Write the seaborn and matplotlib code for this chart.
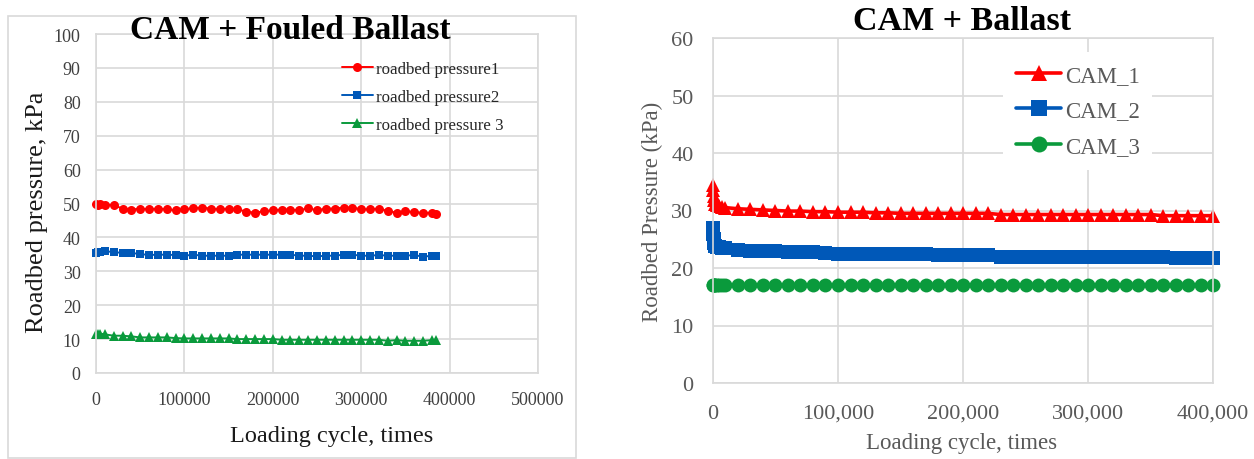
import matplotlib
matplotlib.use("Agg")
import matplotlib.pyplot as plt
import matplotlib.ticker as mticker
from matplotlib.patches import Rectangle
import seaborn as sns
import pandas as pd

# ---------------- data: left panel (CAM + Fouled Ballast) ----------------
left_cycles = [0, 2000, 5000, 10000, 20000, 30000, 40000, 50000, 60000, 70000,
               80000, 90000, 100000, 110000, 120000, 130000, 140000, 150000, 160000, 170000,
               180000, 190000, 200000, 210000, 220000, 230000, 240000, 250000, 260000, 270000,
               280000, 290000, 300000, 310000, 320000, 330000, 340000, 350000, 360000, 370000,
               380000, 385000]
roadbed_pressure1 = [49.8, 49.5, 49.9, 49.7, 49.5, 48.5, 48.2, 48.5, 48.3, 48.5,
                     48.3, 48.0, 48.3, 48.6, 48.8, 48.5, 48.3, 48.5, 48.3, 47.6,
                     47.3, 47.7, 48.0, 48.2, 48.2, 48.0, 48.6, 48.0, 48.5, 48.5,
                     48.8, 48.8, 48.3, 48.3, 48.5, 47.8, 47.3, 47.7, 47.5, 47.2,
                     47.3, 47.0]
roadbed_pressure2 = [35.5, 35.8, 35.8, 35.9, 35.7, 35.4, 35.4, 35.1, 34.8, 34.9,
                     34.9, 34.8, 34.6, 34.9, 34.6, 34.6, 34.6, 34.6, 34.9, 34.9,
                     34.9, 34.9, 34.9, 34.9, 34.9, 34.6, 34.6, 34.4, 34.6, 34.6,
                     34.9, 34.9, 34.6, 34.6, 34.8, 34.6, 34.6, 34.6, 34.8, 34.3,
                     34.6, 34.6]
roadbed_pressure3 = [11.5, 11.6, 11.6, 11.4, 11.0, 11.0, 10.8, 10.5, 10.5, 10.5,
                     10.5, 10.3, 10.2, 10.2, 10.2, 10.2, 10.2, 10.2, 10.0, 10.0,
                     10.0, 10.0, 10.0, 9.8, 9.8, 9.8, 9.8, 9.8, 9.8, 9.8,
                     9.8, 9.8, 9.8, 9.8, 9.8, 9.5, 9.7, 9.5, 9.5, 9.5,
                     9.7, 9.7]
left_labels = ["roadbed pressure1", "roadbed pressure2", "roadbed pressure 3"]
left_yticks = [0, 10, 20, 30, 40, 50, 60, 70, 80, 90, 100]
left_xticks = [0, 100000, 200000, 300000, 400000, 500000]

# ---------------- data: right panel (CAM + Ballast) ----------------
right_cycles = [0, 300, 600, 1000, 2000, 3500, 5000, 7000,
                10000, 20000, 30000, 40000, 50000, 60000, 70000, 80000, 90000, 100000,
                110000, 120000, 130000, 140000, 150000, 160000, 170000, 180000, 190000, 200000,
                210000, 220000, 230000, 240000, 250000, 260000, 270000, 280000, 290000, 300000,
                310000, 320000, 330000, 340000, 350000, 360000, 370000, 380000, 390000, 400000]
cam_1 = [34.5, 33.5, 32.5, 31.8, 31.2, 30.9, 30.7, 30.6,
         30.5, 30.3, 30.2, 30.1, 30.0, 29.9, 29.9, 29.8, 29.8, 29.7,
         29.7, 29.7, 29.6, 29.6, 29.5, 29.5, 29.5, 29.5, 29.5, 29.5,
         29.5, 29.5, 29.3, 29.3, 29.3, 29.3, 29.3, 29.3, 29.3, 29.3,
         29.3, 29.3, 29.3, 29.3, 29.3, 29.1, 29.1, 29.1, 29.1, 29.1]
cam_2 = [27.0, 26.0, 25.0, 24.3, 23.9, 23.7, 23.6, 23.5,
         23.4, 23.2, 23.0, 22.9, 22.9, 22.8, 22.8, 22.7, 22.6, 22.5,
         22.5, 22.5, 22.5, 22.4, 22.4, 22.4, 22.4, 22.3, 22.3, 22.3,
         22.3, 22.3, 22.0, 22.0, 22.0, 22.0, 22.0, 22.0, 22.0, 22.0,
         22.0, 22.0, 22.0, 22.0, 22.0, 22.0, 21.8, 21.8, 21.8, 21.8]
cam_3 = [17.0, 17.0, 17.0, 17.1, 17.1, 17.1, 17.1, 17.1,
         17.1, 17.1, 17.1, 17.1, 17.1, 17.1, 17.1, 17.1, 17.1, 17.1,
         17.1, 17.1, 17.1, 17.1, 17.1, 17.1, 17.1, 17.1, 17.1, 17.1,
         17.1, 17.1, 17.1, 17.1, 17.1, 17.1, 17.1, 17.1, 17.1, 17.1,
         17.1, 17.1, 17.1, 17.1, 17.1, 17.1, 17.1, 17.1, 17.1, 17.1]
right_labels = ["CAM_1", "CAM_2", "CAM_3"]
right_yticks = [0, 10, 20, 30, 40, 50, 60]
right_xticks = [0, 100000, 200000, 300000, 400000]

# ---------------- style ----------------
sns.set_theme(style="white")
plt.rcParams['font.family'] = ['Liberation Serif', 'DejaVu Serif']

W, H = 1254, 460
fig = plt.figure(figsize=(W / 100, H / 100), dpi=100)
fig.patch.set_facecolor("white")

RED = "#ff0000"
BLUE = "#0058b8"
GREEN = "#0a9a3c"
GRID = "#d9d9d9"


def ax_rect(x0, y0, x1, y1):
    return [x0 / W, 1 - y1 / H, (x1 - x0) / W, (y1 - y0) / H]


# outer border of left chart
fig.add_artist(Rectangle((8 / W, 1 - 459 / H), (576 - 8) / W, (459 - 17) / H,
                         transform=fig.transFigure, fill=False, edgecolor=GRID, lw=1.2))

# ---------------- left panel ----------------
axL = fig.add_axes(ax_rect(96, 35, 538, 374))
dfL = pd.DataFrame({"cycle": left_cycles, "p1": roadbed_pressure1,
                    "p2": roadbed_pressure2, "p3": roadbed_pressure3})
for col, lab, color, mk, ms in zip(["p1", "p2", "p3"], left_labels,
                                   [RED, BLUE, GREEN], ["o", "s", "^"], [6.5, 6.3, 6.5]):
    sns.lineplot(data=dfL, x="cycle", y=col, ax=axL, color=color, marker=mk,
                 markersize=ms, markeredgewidth=0, linewidth=1.4, label=lab,
                 errorbar=None, clip_on=False)
axL.set_xlim(0, 500000)
axL.set_ylim(0, 100)
axL.set_xticks(left_xticks)
axL.set_yticks(left_yticks)
axL.xaxis.set_major_formatter(mticker.FuncFormatter(lambda v, p: f"{int(v)}"))
axL.grid(True, color=GRID, lw=1.2)
axL.set_axisbelow(True)
for s in axL.spines.values():
    s.set_color(GRID)
    s.set_linewidth(1.2)
axL.tick_params(axis="both", length=0, labelsize=13, colors="#404040")
axL.tick_params(axis="y", pad=11)
axL.tick_params(axis="x", pad=13)
axL.set_xlabel("")
axL.set_ylabel("")
legL = axL.legend(loc="upper left", bbox_to_anchor=(342 / W, 1 - 62 / H),
                  bbox_transform=fig.transFigure, frameon=False, fontsize=12.2,
                  handlelength=1.8, handletextpad=0.2, labelspacing=0.72,
                  borderpad=0, borderaxespad=0)
for t in legL.get_texts():
    t.set_color("#262626")
fig.text(290 / W, 1 - 31 / H, "CAM + Fouled Ballast", ha="center", va="center",
         fontsize=24, fontweight="bold", color="black")
fig.text(37 / W, 1 - 212 / H, "Roadbed pressure, kPa", ha="center", va="center",
         rotation=90, fontsize=19, color="#1a1a1a")
fig.text(332 / W, 1 - 437 / H, "Loading cycle, times", ha="center", va="center",
         fontsize=17.5, color="#1a1a1a")

# ---------------- right panel ----------------
axR = fig.add_axes(ax_rect(713, 39, 1213, 384))
dfR = pd.DataFrame({"cycle": right_cycles, "c1": cam_1, "c2": cam_2, "c3": cam_3})
for col, lab, color, mk, ms in zip(["c1", "c2", "c3"], right_labels,
                                   [RED, BLUE, GREEN], ["^", "s", "o"], [10.5, 9.5, 10]):
    sns.lineplot(data=dfR, x="cycle", y=col, ax=axR, color=color, marker=mk,
                 markersize=ms, markeredgewidth=0, linewidth=2.6, label=lab,
                 errorbar=None, clip_on=False)
axR.set_xlim(0, 400000)
axR.set_ylim(0, 60)
axR.set_xticks(right_xticks)
axR.set_yticks(right_yticks)
axR.xaxis.set_major_formatter(mticker.FuncFormatter(lambda v, p: f"{int(v):,}"))
axR.grid(True, color=GRID, lw=1.2)
axR.set_axisbelow(True)
for s in axR.spines.values():
    s.set_color(GRID)
    s.set_linewidth(1.2)
axR.tick_params(axis="both", length=0, labelsize=16, colors="#595959")
axR.tick_params(axis="y", pad=14)
axR.tick_params(axis="x", pad=15)
axR.set_xlabel("")
axR.set_ylabel("")
legR = axR.legend(loc="upper left", bbox_to_anchor=(1003 / W, 1 - 53 / H),
                  bbox_transform=fig.transFigure, frameon=True, fontsize=16.5,
                  handlelength=2.0, handletextpad=0.15, labelspacing=0.64,
                  borderpad=0.55, borderaxespad=0, fancybox=False, markerscale=1.15)
legR.get_frame().set_facecolor("white")
legR.get_frame().set_edgecolor("none")
legR.get_frame().set_alpha(1)
for t in legR.get_texts():
    t.set_color("#595959")
fig.text(962 / W, 1 - 22 / H, "CAM + Ballast", ha="center", va="center",
         fontsize=24.5, fontweight="bold", color="black")
fig.text(652 / W, 1 - 212 / H, "Roadbed Pressure (kPa)", ha="center", va="center",
         rotation=90, fontsize=16.5, color="#595959")
fig.text(962 / W, 1 - 444 / H, "Loading cycle, times", ha="center", va="center",
         fontsize=16.5, color="#595959")

fig.savefig("out.png", dpi=100, facecolor="white")
